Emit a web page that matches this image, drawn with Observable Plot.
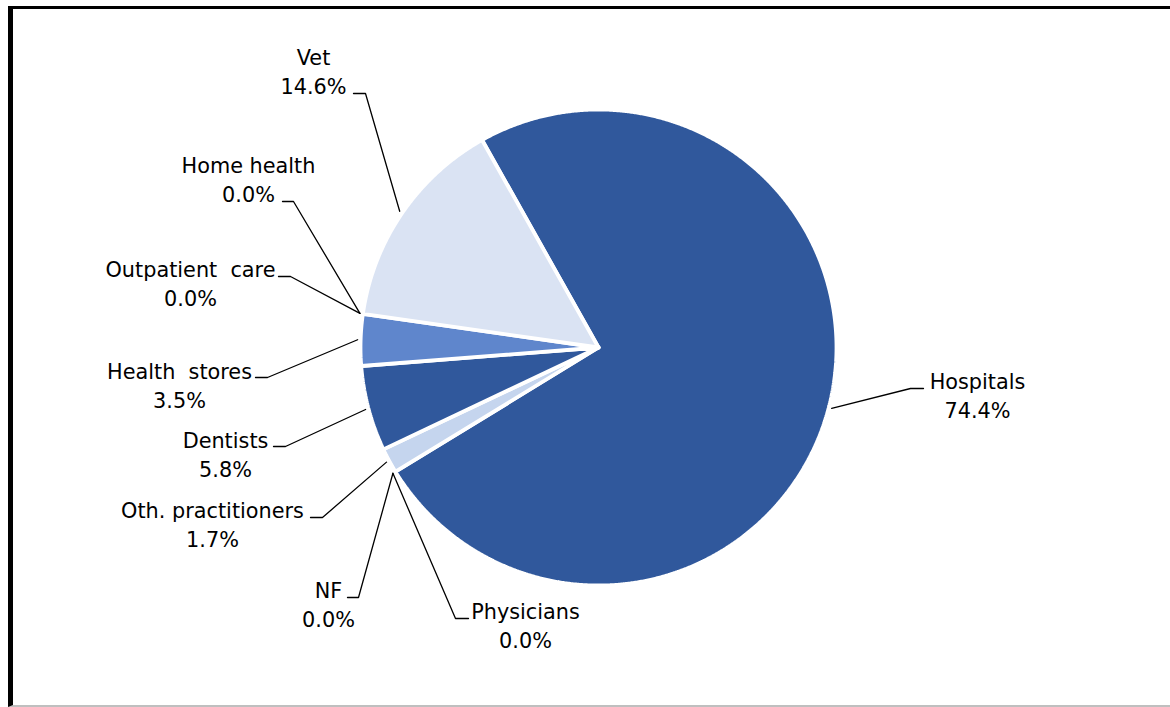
<!DOCTYPE html>
<html><head><meta charset="utf-8">
<script src="https://cdn.jsdelivr.net/npm/d3@7"></script>
<script src="https://cdn.jsdelivr.net/npm/@observablehq/plot@0.6"></script>
<style>
html,body{margin:0;padding:0;background:#fff;overflow:hidden;width:1170px;height:707px}
#frame{position:absolute;left:8px;top:6px;width:1157px;height:696px;border-top:3px solid #000;border-left:5px solid #000;border-bottom:2px solid #bfbfbf;}
#frame svg{display:block}
</style></head><body><div id="frame"></div>
<script>
// ---- data ----
const categories = ["Hospitals", "Physicians", "NF", "Oth. practitioners", "Dentists", "Health stores", "Outpatient care", "Home health", "Vet"];
const shares = [74.4, 0.0, 0.0, 1.7, 5.8, 3.5, 0.0, 0.0, 14.6];
const labelNames = ["Hospitals", "Physicians", "NF", "Oth. practitioners", "Dentists", "Health\u00a0\u00a0stores", "Outpatient\u00a0\u00a0care", "Home health", "Vet"];

// ---- layout / style ----
const sliceColors = {
  "Hospitals": "#30589c", "Physicians": "#30589c", "NF": "#c5d5ee",
  "Oth. practitioners": "#c5d5ee", "Dentists": "#30589c", "Health stores": "#5f86cc",
  "Outpatient care": "#5f86cc", "Home health": "#dae3f3", "Vet": "#dae3f3"
};
const center = {x: 598, y: 347};
const R = 238;
const startDeg = -29.3;
// label block centre and leader elbow (page pixels)
const labelLayout = {
  "Hospitals":          {tx: 977, ty: 394, h0: 923, h1: 910, hy: 388},
  "Physicians":         {tx: 525, ty: 624, h0: 468, h1: 455, hy: 618},
  "NF":                 {tx: 328, ty: 603, h0: 347, h1: 358, hy: 597},
  "Oth. practitioners": {tx: 212, ty: 523, h0: 310, h1: 322, hy: 517},
  "Dentists":           {tx: 225, ty: 453, h0: 273, h1: 285, hy: 446},
  "Health stores":      {tx: 179, ty: 384, h0: 255, h1: 267, hy: 377},
  "Outpatient care":    {tx: 190, ty: 282, h0: 278, h1: 290, hy: 276},
  "Home health":        {tx: 248, ty: 178, h0: 282, h1: 293, hy: 201},
  "Vet":                {tx: 313, ty: 70,  h0: 353, h1: 365, hy: 93}
};

const a0 = startDeg * Math.PI / 180;
const arcs = d3.pie().sort(null).value(d => d).startAngle(a0).endAngle(a0 + 2 * Math.PI)(shares);
const pt = (a, r) => [center.x + r * Math.sin(a), center.y - r * Math.cos(a)];

const slicePts = [];
arcs.forEach((arc, i) => {
  if (arc.value <= 0) return;
  const cat = categories[i];
  slicePts.push({cat, x: center.x, y: center.y});
  const n = Math.max(4, Math.ceil((arc.endAngle - arc.startAngle) / 0.005));
  for (let k = 0; k <= n; k++) {
    const a = arc.startAngle + (arc.endAngle - arc.startAngle) * k / n;
    const [x, y] = pt(a, R);
    slicePts.push({cat, x, y});
  }
  slicePts.push({cat, x: center.x, y: center.y});
});

const leaderPts = [];
const labels = [];
arcs.forEach((arc, i) => {
  const cat = categories[i];
  const L = labelLayout[cat];
  const mid = (arc.startAngle + arc.endAngle) / 2;
  const [ex, ey] = pt(mid, R + 3);
  leaderPts.push({cat, x: ex, y: ey}, {cat, x: L.h1, y: L.hy}, {cat, x: L.h0, y: L.hy});
  labels.push({cat, x: L.tx, y: L.ty, text: labelNames[i] + "\n" + shares[i].toFixed(1) + "%"});
});

const W = 1157, H = 696;
const chart = Plot.plot({
  width: W, height: H, margin: 0,
  style: {fontFamily: "'DejaVu Sans', Verdana, sans-serif", background: "transparent"},
  x: {domain: [13, 13 + W], range: [0, W], axis: null},
  y: {domain: [9, 9 + H], range: [0, H], axis: null},
  marks: [
    Plot.line(slicePts, {x: "x", y: "y", z: "cat", fill: d => sliceColors[d.cat], stroke: "#ffffff", strokeWidth: 3.8, strokeLinejoin: "miter", curve: "linear"}),
    Plot.line(leaderPts, {x: "x", y: "y", z: "cat", stroke: "#000", strokeWidth: 1.3, curve: "linear"}),
    Plot.text(labels, {x: "x", y: "y", text: "text", fontSize: 20.8, lineHeight: 1.35, textAnchor: "middle", lineAnchor: "middle", fill: "#000"})
  ]
});
document.getElementById("frame").appendChild(chart);
</script></body></html>
